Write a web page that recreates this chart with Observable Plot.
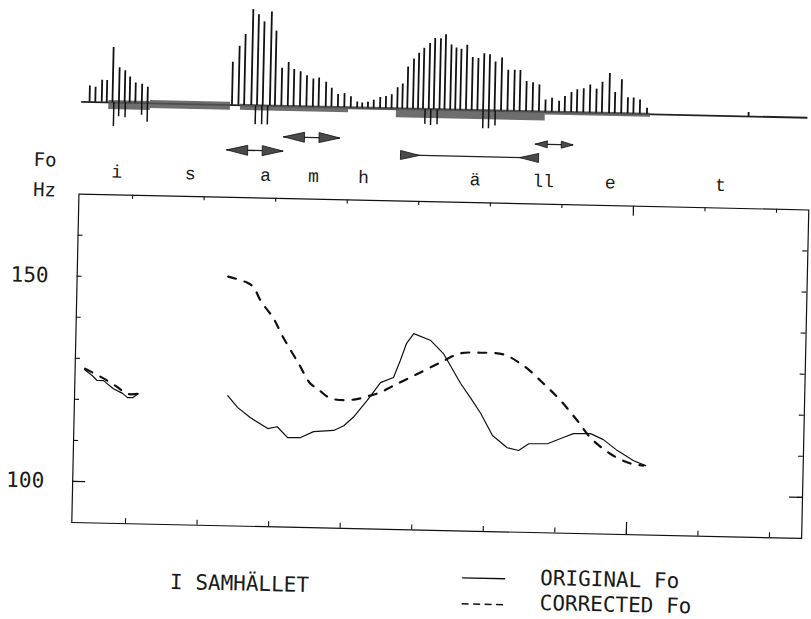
<!DOCTYPE html>
<html>
<head>
<meta charset="utf-8">
<script src="https://cdn.jsdelivr.net/npm/d3@7"></script>
<script src="https://cdn.jsdelivr.net/npm/@observablehq/plot@0.6"></script>
<style>
  html, body { margin: 0; padding: 0; background: #fff; overflow: hidden; }
  #page { position: relative; width: 811px; height: 619px; transform: rotate(1.25deg); transform-origin: 405px 310px; }
  #wave, #main { position: absolute; left: 0; }
  #wave { top: 0; }
  #main { top: 160px; }
  .cap { position: absolute; font-family: "DejaVu Sans Mono", monospace; font-size: 21px; line-height: 1; color: #1a1a1a; white-space: nowrap; }
  .sw { position: absolute; }
</style>
</head>
<body>
<div id="page">
  <div id="wave"></div>
  <div id="main"></div>
  <div class="cap" style="left:176px; top:577px;">I SAMHÄLLET</div>
  <svg class="sw" style="left:466px; top:574px;" width="48" height="5"><line x1="2" x2="45" y1="2.5" y2="2.5" stroke="#111" stroke-width="1.3"/></svg>
  <div class="cap" style="left:546px; top:565px;">ORIGINAL Fo</div>
  <svg class="sw" style="left:466px; top:600px;" width="48" height="5"><line x1="2" x2="45" y1="2.5" y2="2.5" stroke="#111" stroke-width="1.6" stroke-dasharray="7,4.5"/></svg>
  <div class="cap" style="left:546px; top:590px;">CORRECTED Fo</div>
</div>
<script>
// ---------- data (time in ms, F0 in Hz) ----------
const xTicks = [100, 200, 300, 400, 500, 600, 700, 800, 900, 1000];
const xLongTicks = [800];
const yTicks = [100, 110, 120, 130, 140, 150, 160];
const yLongTicks = [100];
const yLabels = [100, 150];

const phonemes = ["i", "s", "a", "m", "h", "ä", "ll", "e", "t"];
const phonemeTimes = [77, 180, 285, 352, 422, 578, 673, 767, 921];

const originalPart1 = [[38,127.3],[49,125.9],[56,124.7],[65,124.7],[79,122.8],[92,121.7],[99,120.7],[106,120.7],[114,121.7]];
const originalPart2 = [[239,121.7],[253,118.9],[271,116.5],[296,113.9],[309,114.4],[324,111.8],[342,111.9],[360,113.4],[388,113.8],[402,115.0],[415,117.1],[434,121.3],[452,125.7],[470,127.0],[479,131.2],[487,135.3],[497,137.8],[521,136.2],[539,133.1],[564,125.9],[578,122.5],[593,118.7],[610,113.4],[631,110.5],[647,109.9],[661,111.6],[687,111.7],[709,113.3],[723,114.3],[747,114.4],[765,113.0],[785,110.4],[808,108.0],[825,106.9]];
const correctedPart1 = [[39,127.5],[61,125.6],[82,123.5],[99,121.6],[114,121.7]];
const correctedPart2 = [[236,150.7],[263,149.3],[272,148.2],[282,145.0],[300,140.9],[315,136.1],[337,129.9],[354,125.1],[364,123.9],[383,121.6],[415,121.4],[438,122.5],[452,123.3],[470,125.0],[501,127.8],[535,130.9],[562,133.2],[591,133.5],[623,133.2],[651,130.6],[680,126.3],[704,122.3],[728,117.5],[747,113.4],[775,109.6],[804,107.3],[822,106.9]];

// speech waveform: glottal pulses (time, amplitude), negative spikes, noise bands
const pulseTimes = [37,45,54,61,69,78,86,93,101,110,118,
  236,245,253,263,271,279,289,296,305,314,322,331,340,349,357,367,375,384,393,
  402,411,418,426,434,443,451,459,467,
  474,481,489,496,503,511,518,526,533,541,548,555,563,571,579,587,595,603,612,621,630,638,647,656,665,
  674,683,693,701,710,718,727,736,745,753,763,771,780,789,797,806,816,
  958];
const pulseAmps = [16,15,22,22,55,35,32,26,20,19,16,
  43,59,71,96,91,84,94,75,38,44,37,35,31,28,29,25,19,13,14,
  11,6,5,6,8,11,12,14,21,
  25,42,50,56,61,66,71,71,75,65,62,61,65,53,52,57,56,49,53,41,41,41,30,29,27,
  12,14,11,16,20,23,24,28,24,31,40,21,34,16,16,14,6,
  4];
const dipTimes = [71,78,87,110,118,269,278,286,506,514,523,587,595,604];
const dipAmps = [-24,-14,-15,-12,-19,-19,-19,-19,-15,-16,-15,-18,-18,-15];
const noiseStart = [64,122,248,399,466,674];
const noiseEnd = [122,234,399,467,674,821];
const noiseLow = [-7,-5,-5,-2,-9,-3];
const noiseHigh = [2,3,1,1,1,1];
const waveSpan = [26, 1041];

// segment arrows under the waveform
const arrowNames = ["a", "m", "ä", "ll"];
const arrowStart = [230, 309, 473, 661];
const arrowEnd = [309, 388, 666, 714];
const arrowLevel = [-44.8, -30.5, -46.1, -32.3];
const arrowKind = ["out", "out", "in", "out"];

// ---------- tables ----------
const pulses = pulseTimes.map((t, i) => ({t, amp: pulseAmps[i]}));
const dips = dipTimes.map((t, i) => ({t, amp: dipAmps[i]}));
const noise = noiseStart.map((t1, i) => ({t1, t2: noiseEnd[i], lo: noiseLow[i], hi: noiseHigh[i]}));
const arrows = arrowNames.map((name, i) => ({name, t1: arrowStart[i], t2: arrowEnd[i], level: arrowLevel[i], kind: arrowKind[i]}));
const phon = phonemes.map((label, i) => ({label, t: phonemeTimes[i]}));
const toObj = (arr) => arr.map(([t, hz]) => ({t, hz}));

// arrowhead glyphs
function head(dir, anchor, L, h) {
  return {draw(ctx) {
    const s = dir === "right" ? 1 : -1;
    if (anchor === "tip") { ctx.moveTo(0, 0); ctx.lineTo(-s * L, -h); ctx.lineTo(-s * L, h); ctx.closePath(); }
    else { ctx.moveTo(0, -h); ctx.lineTo(s * L, 0); ctx.lineTo(0, h); ctx.closePath(); }
  }};
}
const bigL = 21, bigH = 5, smL = 12, smH = 3.5;
const headStyle = {fill: "#4a4a4a", stroke: "#111", strokeWidth: 0.8};
const outArrows = arrows.filter(d => d.kind === "out" && d.name !== "ll");
const smallArrows = arrows.filter(d => d.name === "ll");
const inArrows = arrows.filter(d => d.kind === "in");

const X = {domain: [25, 1045]};
const W = 811, ML = 76, MR = 5;

// ---------- waveform strip ----------
const wave = Plot.plot({
  width: W, height: 160, marginLeft: ML, marginRight: MR, marginTop: 0, marginBottom: 0,
  x: {...X, axis: null},
  y: {domain: [-51.5, 108.5], axis: null},
  style: {background: "transparent", overflow: "visible"},
  marks: [
    Plot.ruleY([0], {x1: waveSpan[0], x2: waveSpan[1], stroke: "#222", strokeWidth: 1.8}),
    Plot.rect(noise, {x1: "t1", x2: "t2", y1: "lo", y2: "hi", fill: "#555", fillOpacity: 0.85}),
    Plot.ruleX(pulses, {x: "t", y1: 0, y2: "amp", stroke: "#111", strokeWidth: 1.8}),
    Plot.ruleX(dips, {x: "t", y1: 0, y2: "amp", stroke: "#111", strokeWidth: 1.5}),
    Plot.ruleY(arrows, {y: "level", x1: "t1", x2: "t2", stroke: "#222", strokeWidth: 1.3}),
    Plot.dot(outArrows, {x: "t1", y: "level", symbol: head("left", "tip", bigL, bigH), ...headStyle}),
    Plot.dot(outArrows, {x: "t2", y: "level", symbol: head("right", "tip", bigL, bigH), ...headStyle}),
    Plot.dot(smallArrows, {x: "t1", y: "level", symbol: head("left", "tip", smL, smH), ...headStyle}),
    Plot.dot(smallArrows, {x: "t2", y: "level", symbol: head("right", "tip", smL, smH), ...headStyle}),
    Plot.dot(inArrows, {x: "t1", y: "level", symbol: head("right", "base", 19, 4.5), ...headStyle}),
    Plot.dot(inArrows, {x: "t2", y: "level", symbol: head("left", "base", 19, 4.5), ...headStyle})
  ]
});
document.getElementById("wave").appendChild(wave);

// ---------- F0 chart ----------
const MT = 40.7, H = 400, MB = 30.8;
const FH = H - MT - MB, FW = W - ML - MR;
const mono = "DejaVu Sans Mono, monospace";
const main = Plot.plot({
  width: W, height: H, marginLeft: ML, marginRight: MR, marginTop: MT, marginBottom: MB,
  x: {...X, axis: null},
  y: {domain: [90, 170], axis: null},
  style: {background: "transparent", overflow: "visible"},
  marks: [
    Plot.frame({stroke: "#111", strokeWidth: 1.2}),
    Plot.tickX(xTicks, {x: d => d, insetTop: FH - 5, stroke: "#111", strokeWidth: 1.1}),
    Plot.tickX(xTicks, {x: d => d, insetBottom: FH - 4, stroke: "#111", strokeWidth: 1.1}),
    Plot.tickX(xLongTicks, {x: d => d, insetTop: FH - 12, stroke: "#111", strokeWidth: 1.2}),
    Plot.tickX(xLongTicks, {x: d => d, insetBottom: FH - 10, stroke: "#111", strokeWidth: 1.2}),
    Plot.tickY(yTicks, {y: d => d, insetRight: FW - 5, stroke: "#111", strokeWidth: 1.1}),
    Plot.tickY(yTicks, {y: d => d, insetLeft: FW - 5, stroke: "#111", strokeWidth: 1.1}),
    Plot.tickY(yLongTicks, {y: d => d, insetRight: FW - 13, stroke: "#111", strokeWidth: 1.2}),
    Plot.tickY(yLongTicks, {y: d => d, insetLeft: FW - 13, stroke: "#111", strokeWidth: 1.2}),
    Plot.text(yLabels, {y: d => d, text: d => String(d), frameAnchor: "left", textAnchor: "end", dx: -28.5, fontFamily: mono, fontSize: 21, fill: "#1a1a1a"}),
    Plot.text(["Fo"], {text: d => d, frameAnchor: "top-left", dx: -46, dy: -40.6, fontFamily: mono, fontSize: 19, fill: "#1a1a1a"}),
    Plot.text(["Hz"], {text: d => d, frameAnchor: "top-left", dx: -46, dy: -10.6, fontFamily: mono, fontSize: 19, fill: "#1a1a1a"}),
    Plot.text(phon, {x: "t", text: "label", frameAnchor: "top", dy: -30, fontFamily: "Liberation Mono, monospace", fontSize: 18, fill: "#1a1a1a"}),
    Plot.line(toObj(originalPart1), {x: "t", y: "hz", stroke: "#111", strokeWidth: 1.2}),
    Plot.line(toObj(originalPart2), {x: "t", y: "hz", stroke: "#111", strokeWidth: 1.2}),
    Plot.line(toObj(correctedPart1), {x: "t", y: "hz", stroke: "#111", strokeWidth: 2.2, strokeDasharray: "8,9", curve: "catmull-rom"}),
    Plot.line(toObj(correctedPart2), {x: "t", y: "hz", stroke: "#111", strokeWidth: 2.2, strokeDasharray: "8,9", curve: "catmull-rom"})
  ]
});
document.getElementById("main").appendChild(main);
</script>
</body>
</html>
